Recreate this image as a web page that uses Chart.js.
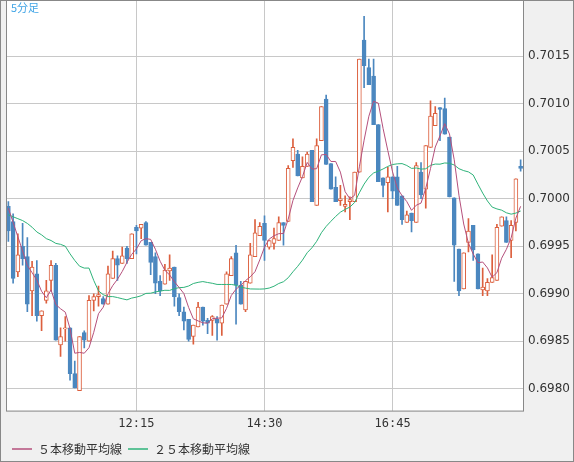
<!DOCTYPE html>
<html>
<head>
<meta charset="utf-8">
<script src="https://cdn.jsdelivr.net/npm/chart.js@4.4.0/dist/chart.umd.min.js"></script>
<style>
  body { margin: 0; background: #f0f0f0; }
  #wrap { position: relative; width: 574px; height: 462px; overflow: hidden; }
  #chart { position: absolute; left: 0; top: -13px; }
  #frame { position: absolute; left: 0; top: 0; width: 572px; height: 460px; border: 1px solid #888; pointer-events: none; }
</style>
</head>
<body>
<div id="wrap"><canvas id="chart" width="574" height="478"></canvas><div id="frame"></div></div>
<script>
// 5-minute candles, 10:00 onward (values in price units)
const opens = [0.69992,0.69976,0.69923,0.69950,0.69939,0.69903,0.69921,0.69877,0.69893,0.69914,
  0.69930,0.69846,0.69863,0.69864,0.69816,0.69798,0.69859,0.69850,0.69893,0.69897,
  0.69895,0.69889,0.69916,0.69937,0.69932,0.69948,0.69937,0.69970,0.69969,0.69975,
  0.69954,0.69939,0.69913,0.69910,0.69924,0.69928,0.69896,0.69881,0.69873,0.69855,
  0.69865,0.69886,0.69872,0.69872,0.69873,0.69869,0.69889,0.69919,0.69943,0.69909,
  0.69883,0.69911,0.69939,0.69961,0.69974,0.69949,0.69953,0.69956,0.69975,0.69976,
  0.70040,0.70047,0.70022,0.70034,0.70051,0.69993,0.70061,0.70105,0.70037,0.70012,
  0.69998,0.69992,0.69997,0.69997,0.70028,0.70167,0.70138,0.70129,0.70078,0.70022,
  0.70017,0.70023,0.70023,0.70003,0.69975,0.69985,0.69975,0.70028,0.70010,0.70054,
  0.70077,0.70096,0.70095,0.70065,0.70001,0.69947,0.69905,0.69954,0.69972,0.69942,
  0.69904,0.69903,0.69912,0.69914,0.69971,0.69977,0.69956,0.69975,0.70034];
const highs = [0.69997,0.69984,0.69963,0.69974,0.69959,0.69934,0.69935,0.69882,0.69914,0.69935,
  0.69932,0.69864,0.69876,0.69864,0.69829,0.69855,0.69861,0.69898,0.69900,0.69908,
  0.69897,0.69929,0.69945,0.69940,0.69949,0.69950,0.69963,0.69972,0.69973,0.69976,
  0.69954,0.69943,0.69919,0.69931,0.69941,0.69928,0.69900,0.69886,0.69873,0.69867,
  0.69891,0.69886,0.69874,0.69877,0.69876,0.69888,0.69923,0.69939,0.69951,0.69913,
  0.69913,0.69953,0.69978,0.69975,0.69982,0.69956,0.69969,0.69981,0.69975,0.70035,
  0.70063,0.70051,0.70044,0.70049,0.70051,0.70063,0.70097,0.70109,0.70037,0.70023,
  0.70014,0.70003,0.70002,0.70028,0.70147,0.70192,0.70147,0.70147,0.70078,0.70022,
  0.70033,0.70023,0.70034,0.70003,0.69987,0.69985,0.70038,0.70038,0.70056,0.70103,
  0.70097,0.70096,0.70106,0.70065,0.70001,0.69947,0.69943,0.69979,0.69972,0.69942,
  0.69927,0.69916,0.69941,0.69973,0.69981,0.69981,0.69977,0.70021,0.70041];
const lows = [0.69955,0.69911,0.69918,0.69930,0.69881,0.69877,0.69871,0.69861,0.69890,0.69903,
  0.69851,0.69834,0.69850,0.69809,0.69801,0.69798,0.69843,0.69850,0.69882,0.69887,
  0.69889,0.69889,0.69916,0.69914,0.69932,0.69932,0.69937,0.69942,0.69958,0.69951,
  0.69920,0.69900,0.69898,0.69910,0.69914,0.69887,0.69877,0.69862,0.69850,0.69847,
  0.69865,0.69867,0.69858,0.69856,0.69851,0.69856,0.69889,0.69919,0.69868,0.69889,
  0.69881,0.69911,0.69939,0.69961,0.69935,0.69947,0.69947,0.69956,0.69951,0.69976,
  0.70033,0.70024,0.70022,0.70034,0.69997,0.69993,0.70061,0.70036,0.70010,0.69997,
  0.69993,0.69986,0.69978,0.69997,0.70028,0.70117,0.70120,0.70078,0.70018,0.70002,
  0.69986,0.70000,0.69993,0.69973,0.69975,0.69965,0.69975,0.70000,0.69990,0.70054,
  0.70077,0.70061,0.70068,0.70002,0.69913,0.69898,0.69905,0.69944,0.69935,0.69905,
  0.69898,0.69898,0.69912,0.69914,0.69971,0.69954,0.69938,0.69966,0.70029];
const closes = [0.69966,0.69916,0.69941,0.69937,0.69889,0.69928,0.69877,0.69882,0.69903,0.69930,
  0.69851,0.69855,0.69864,0.69816,0.69801,0.69855,0.69851,0.69893,0.69897,0.69899,
  0.69889,0.69921,0.69937,0.69930,0.69940,0.69937,0.69963,0.69966,0.69973,0.69951,
  0.69933,0.69911,0.69903,0.69925,0.69927,0.69897,0.69881,0.69871,0.69852,0.69867,
  0.69886,0.69871,0.69869,0.69876,0.69869,0.69888,0.69921,0.69937,0.69909,0.69889,
  0.69913,0.69941,0.69964,0.69971,0.69956,0.69956,0.69958,0.69975,0.69972,0.70032,
  0.70054,0.70024,0.70034,0.70047,0.69997,0.70056,0.70097,0.70036,0.70010,0.69997,
  0.70000,0.69994,0.69999,0.70028,0.70147,0.70140,0.70120,0.70078,0.70018,0.70014,
  0.70023,0.70008,0.69993,0.69978,0.69983,0.69977,0.70035,0.70004,0.70056,0.70087,
  0.70090,0.70094,0.70068,0.70002,0.69951,0.69903,0.69943,0.69966,0.69946,0.69905,
  0.69907,0.69912,0.69917,0.69970,0.69981,0.69954,0.69972,0.70021,0.70032];
// averages before enough bars exist
const ma5Head = [0.69990, 0.69975, 0.69960, 0.69945];
const ma25Head = [0.69983,0.69981,0.69979,0.69977,0.69974,0.69970,0.69965,0.69962,0.69958,0.69956,
  0.69953,0.69952,0.69950,0.69942,0.69935,0.69929,0.69927,0.69927,0.69914,0.69903,
  0.69899,0.69897,0.69897,0.69896];
const yTicks = [0.6980, 0.6985, 0.6990, 0.6995, 0.7000, 0.7005, 0.7010, 0.7015];
const shownTimes = ['12:15', '14:30', '16:45'];

const labels = closes.map((c, i) => {
  const m = 10 * 60 + i * 5;
  return Math.floor(m / 60) + ':' + String(m % 60).padStart(2, '0');
});

function movingAvg(n, head) {
  return closes.map((c, i) => {
    if (i < n - 1) return head[i];
    let s = 0;
    for (let k = i - n + 1; k <= i; k++) s += closes[k];
    return s / n;
  });
}

const RED = '#dc5f3d', BLUE = '#4b87bf';
const up = closes.map((c, i) => c >= opens[i]);

const bgPlugin = {
  id: 'bg',
  beforeDraw(chart) {
    const { ctx, chartArea: a } = chart;
    ctx.save();
    ctx.fillStyle = '#f0f0f0';
    ctx.fillRect(0, 0, chart.width, chart.height);
    ctx.fillStyle = '#fff';
    ctx.fillRect(a.left, a.top, a.right - a.left, a.bottom - a.top);
    ctx.restore();
  },
  afterDraw(chart) {
    const { ctx, chartArea: a } = chart;
    ctx.save();
    ctx.strokeStyle = '#888';
    ctx.lineWidth = 1;
    ctx.strokeRect(a.left + 0.5, a.top + 0.5, a.right - a.left, a.bottom - a.top);
    ctx.fillStyle = '#3fa4e6';
    ctx.font = '11px "Noto Sans CJK JP"';
    ctx.textBaseline = 'top';
    ctx.fillText('5分足', a.left + 5, a.top + 3);
    ctx.restore();
  }
};

new Chart(document.getElementById('chart'), {
  type: 'bar',
  data: {
    labels: labels,
    datasets: [
      {
        type: 'line', label: '５本移動平均線', data: movingAvg(5, ma5Head),
        borderColor: '#b5507c', borderWidth: 1, pointRadius: 0, order: 0
      },
      {
        type: 'line', label: '２５本移動平均線', data: movingAvg(25, ma25Head),
        borderColor: '#2fb37a', borderWidth: 1, pointRadius: 0, order: 1
      },
      {
        label: 'body', data: closes.map((c, i) => [opens[i], c]),
        backgroundColor: up.map(u => u ? '#fff' : BLUE),
        borderColor: up.map(u => u ? RED : BLUE),
        borderWidth: 1, borderSkipped: false, barThickness: 4, grouped: false, order: 2
      },
      {
        label: 'wick', data: closes.map((c, i) => [lows[i], highs[i]]),
        backgroundColor: up.map(u => u ? RED : BLUE),
        borderWidth: 0, barThickness: 1, grouped: false, order: 3
      }
    ]
  },
  options: {
    responsive: false,
    animation: false,
    layout: { padding: { left: 6, top: 0, right: 0, bottom: 0 } },
    plugins: {
      tooltip: { enabled: false },
      legend: {
        position: 'bottom', align: 'start',
        labels: {
          filter: item => item.datasetIndex < 2,
          boxWidth: 20, boxHeight: 0, color: '#333',
          font: { family: '"Noto Sans CJK JP"', size: 12 }, padding: 6
        }
      }
    },
    scales: {
      x: {
        offset: true,
        grid: {
          offset: false, drawTicks: false,
          color: c => shownTimes.includes(labels[c.index]) ? '#c8c8c8' : 'rgba(0,0,0,0)'
        },
        border: { display: false },
        ticks: {
          autoSkip: false, maxRotation: 0, padding: 6, color: '#333',
          font: { family: 'DejaVu Sans Mono', size: 12 },
          callback: (v, i) => shownTimes.includes(labels[i]) ? labels[i] : ''
        }
      },
      y: {
        position: 'right',
        min: 0.69777, max: 0.70210,
        afterBuildTicks: s => { s.ticks = yTicks.map(v => ({ value: v })); },
        afterFit: s => { s.width = 51; },
        grid: { color: '#c8c8c8', drawTicks: false },
        border: { display: false },
        ticks: {
          padding: 5, color: '#333',
          font: { family: 'DejaVu Sans', size: 12 },
          callback: v => v.toFixed(4)
        }
      }
    }
  },
  plugins: [bgPlugin]
});
</script>
</body>
</html>
